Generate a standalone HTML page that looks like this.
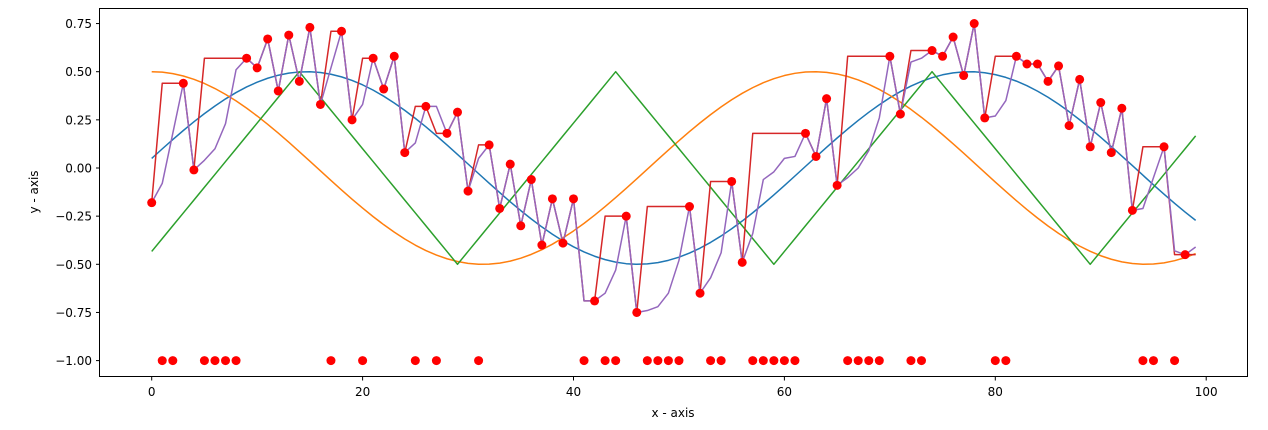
<!DOCTYPE html>
<html><head><meta charset="utf-8"><style>
html,body{margin:0;padding:0;background:#fff;}
svg{display:block;font-family:"DejaVu Sans","Liberation Sans",sans-serif;}
</style></head><body>
<svg id="s" width="1268" height="430" xmlns="http://www.w3.org/2000/svg"></svg>
<script>
const s=document.getElementById('s');
const X=x=>151.7+10.545*x, Y=y=>168-192.6*y;
const M=-1, N=null;
const obs=[-0.18,M,M,0.44,-0.01,M,M,M,M,0.57,0.52,0.67,0.40,0.69,0.45,0.73,0.33,M,0.71,0.25,M,0.57,0.41,0.58,0.08,M,0.32,M,0.18,0.29,-0.12,M,0.12,-0.21,0.02,-0.30,-0.06,-0.40,-0.16,-0.39,-0.16,M,-0.69,M,M,-0.25,-0.75,M,M,M,M,-0.20,-0.65,M,M,-0.07,-0.49,M,M,M,M,M,0.18,0.06,0.36,-0.09,M,M,M,M,0.58,0.28,M,M,0.61,0.58,0.68,0.48,0.75,0.26,M,M,0.58,0.54,0.54,0.45,0.53,0.22,0.46,0.11,0.34,0.08,0.31,-0.22,M,M,0.11,M,-0.45,N];
const fillP={1:-0.08,2:0.18,5:0.04,6:0.10,7:0.23,8:0.51,17:0.52,20:0.33,25:0.13,27:0.32,31:0.05,41:-0.69,43:-0.65,44:-0.53,47:-0.74,48:-0.72,49:-0.65,50:-0.48,53:-0.57,54:-0.44,57:-0.34,58:-0.06,59:-0.02,60:0.05,61:0.06,66:-0.05,67:0.0,68:0.09,69:0.26,72:0.55,73:0.57,80:0.27,81:0.35,94:-0.21,95:-0.05,97:-0.43,99:-0.41};
let purple=[],red=[];
const miss=v=>v===M||v===N;
for(let i=0;i<100;i++){purple.push(!miss(obs[i])?obs[i]:fillP[i]);}
for(let i=0;i<100;i++){if(!miss(obs[i])){red.push(obs[i]);continue;}let j=i;while(j<100&&miss(obs[j]))j++;red.push(j<100?obs[j]:-0.45);}
let h='';
h+='<defs><clipPath id="c"><rect x="99.5" y="8.5" width="1148" height="368"/></clipPath></defs>';
function path(arr,col){let d=arr.map((v,i)=>(i?'L':'M')+X(i).toFixed(2)+','+Y(v).toFixed(2)).join('');return '<path d="'+d+'" fill="none" stroke="'+col+'" stroke-width="1.5" stroke-linejoin="round"/>';}
let b=[],o=[],g=[];
for(let i=0;i<100;i++){b.push(0.5*Math.sin(0.1*i+0.1));o.push(0.5*Math.cos(0.1*i));let t=((i-14)%30+30)%30;g.push(t<=15?0.5-t/15:-0.5+(t-15)/15);}
h+='<g clip-path="url(#c)">';
h+=path(b,'#1f77b4')+path(o,'#ff7f0e')+path(g,'#2ca02c')+path(red,'#d62728')+path(purple,'#9467bd');
for(let i=0;i<100;i++){if(obs[i]===N)continue;h+='<circle cx="'+X(i).toFixed(2)+'" cy="'+Y(obs[i]).toFixed(2)+'" r="4.5" fill="#ff0000"/>';}
h+='</g>';
h+='<rect x="99.5" y="8.5" width="1148" height="368" fill="none" stroke="#000" stroke-width="1"/>';
for(let v=0;v<=100;v+=20){let x=X(v);h+='<line x1="'+x+'" y1="377" x2="'+x+'" y2="380.5" stroke="#000"/><text x="'+x+'" y="396" font-size="12" text-anchor="middle">'+v+'</text>';}
for(let k=-4;k<=3;k++){let v=k*0.25,y=Y(v);h+='<line x1="96" y1="'+y+'" x2="99.5" y2="'+y+'" stroke="#000"/><text x="92" y="'+(y+4.5)+'" font-size="12" text-anchor="end">'+(v<0?'\u2212':'')+Math.abs(v).toFixed(2)+'</text>';}
h+='<text x="673" y="417" font-size="12" text-anchor="middle">x - axis</text>';
h+='<text transform="translate(38,192) rotate(-90)" font-size="12" text-anchor="middle">y - axis</text>';
s.innerHTML=h;
</script>
</body></html>
